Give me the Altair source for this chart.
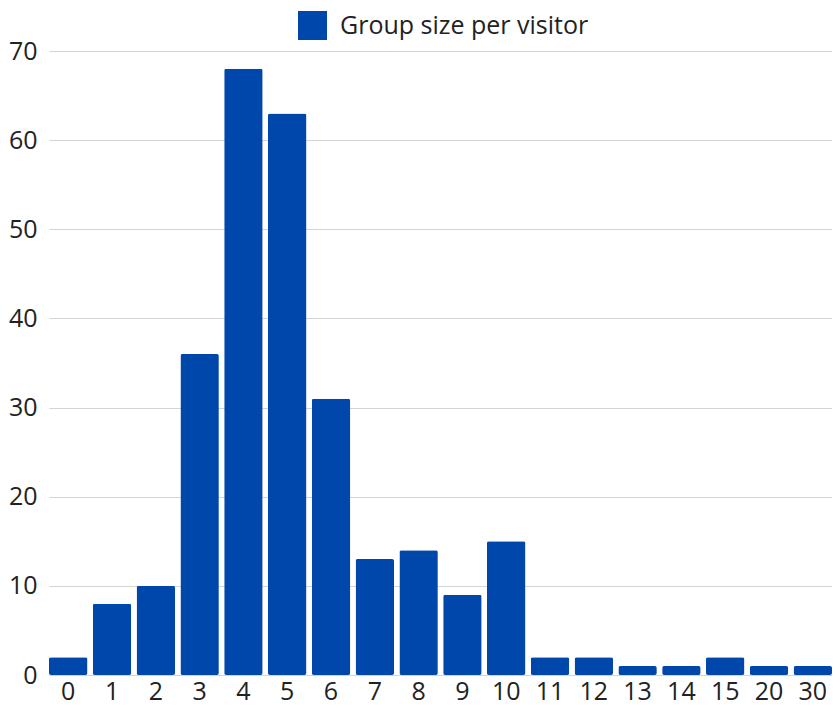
import altair as alt
import pandas as pd

categories = ["0", "1", "2", "3", "4", "5", "6", "7", "8", "9", "10",
              "11", "12", "13", "14", "15", "20", "30"]
counts = [2, 8, 10, 36, 68, 63, 31, 13, 14, 9, 15, 2, 2, 1, 1, 2, 1, 1]
series_name = "Group size per visitor"

df = pd.DataFrame({"group": categories, "count": counts, "series": series_name})

FONT = "Open Sans"
BLUE = "#0047ab"
FS = 25

chart = alt.Chart(df).mark_bar(
    cornerRadius=2, color=BLUE
).encode(
    x=alt.X("group:N", sort=categories, title=None,
            scale=alt.Scale(paddingInner=0.122, paddingOuter=0),
            axis=alt.Axis(labelAngle=0, ticks=False, domain=False, grid=False,
                          labelPadding=4, labelFontSize=FS, labelFont=FONT,
                          labelColor="#222222")),
    y=alt.Y("count:Q", title=None,
            scale=alt.Scale(domain=[0, 70], nice=False),
            axis=alt.Axis(values=[0, 10, 20, 30, 40, 50, 60, 70], ticks=False,
                          domain=False, gridColor="#d4d4d4", gridWidth=1,
                          labelPadding=12, labelFontSize=FS, labelFont=FONT,
                          labelColor="#222222")),
    fill=alt.Fill("series:N", scale=alt.Scale(range=[BLUE]),
                  legend=alt.Legend(title=None, orient="none", legendX=249,
                                    legendY=-40, symbolType="square",
                                    symbolSize=841, symbolStrokeWidth=0,
                                    symbolOpacity=1, labelFontSize=FS,
                                    labelFont=FONT, labelColor="#222222",
                                    labelOffset=13, labelLimit=0, padding=0)),
).properties(
    width=783, height=624,
    autosize=alt.AutoSizeParams(type="none"),
    padding={"left": 41, "top": 43, "right": 0, "bottom": 34},
).configure_view(stroke=None)

chart.save("out.html", embed_options={"renderer": "svg", "actions": False})
